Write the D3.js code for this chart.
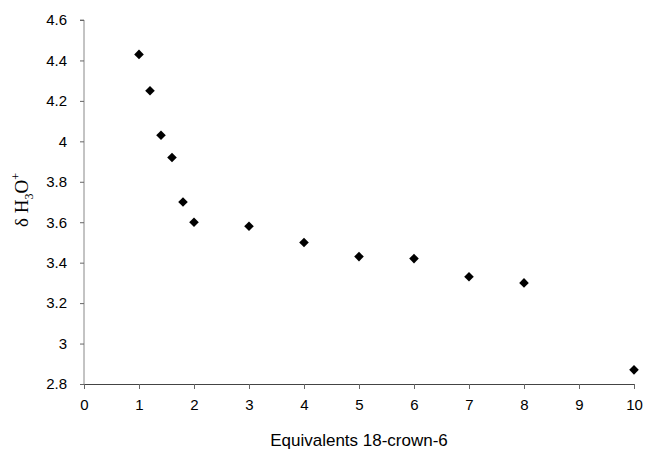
<!DOCTYPE html>
<html>
<head>
<meta charset="utf-8">
<script src="https://cdn.jsdelivr.net/npm/d3@7"></script>
<style>
  body { margin: 0; background: #fff; }
  svg { display: block; }
  .axis text { font-family: Arial, "Liberation Sans", sans-serif; font-size: 15px; fill: #000; }
</style>
</head>
<body>
<svg id="chart" width="646" height="454"></svg>
<script>
// data
var equivalents = [1, 1.2, 1.4, 1.6, 1.8, 2, 3, 4, 5, 6, 7, 8, 10];
var shifts = [4.43, 4.25, 4.03, 3.92, 3.70, 3.60, 3.58, 3.50, 3.43, 3.42, 3.33, 3.30, 2.87];
var xTicks = [0, 1, 2, 3, 4, 5, 6, 7, 8, 9, 10];
var yTicks = [2.8, 3, 3.2, 3.4, 3.6, 3.8, 4, 4.2, 4.4, 4.6];

var svg = d3.select("svg#chart");

var x = d3.scaleLinear().domain([0, 10]).range([84, 634]);
var y = d3.scaleLinear().domain([2.8, 4.6]).range([384, 20]);

var xAxis = d3.axisBottom(x).tickValues(xTicks).tickFormat(d3.format("d"))
  .tickSize(5).tickPadding(10);
var yAxis = d3.axisLeft(y).tickValues(yTicks).tickFormat(function(d) { return String(d); })
  .tickSize(4).tickPadding(13);

var gx = svg.append("g")
  .attr("class", "axis")
  .attr("transform", "translate(0,384)")
  .call(xAxis);
gx.select(".domain").attr("stroke", "#444").attr("d", "M84,0.5H634");
gx.selectAll(".tick line").attr("stroke", "#666");

var gy = svg.append("g")
  .attr("class", "axis")
  .attr("transform", "translate(84,0)")
  .call(yAxis);
gy.select(".domain").attr("stroke", "#888").attr("d", "M-4,20H0V384");
gy.selectAll(".tick line").attr("stroke", "#666");

// points
var diamond = d3.symbol().type(d3.symbolSquare).size(46);
svg.append("g").selectAll("path")
  .data(equivalents.map(function(d, i) { return [d, shifts[i]]; }))
  .enter()
  .append("path")
  .attr("d", diamond)
  .attr("fill", "#000")
  .attr("transform", function(d) {
    return "translate(" + x(d[0]) + "," + y(d[1]) + ") rotate(45)";
  });

// axis titles
svg.append("text")
  .attr("x", 359)
  .attr("y", 446)
  .attr("text-anchor", "middle")
  .style("font-family", "Arial, 'Liberation Sans', sans-serif")
  .style("font-size", "17px")
  .text("Equivalents 18-crown-6");

var yt = svg.append("text")
  .attr("transform", "translate(28,200) rotate(-90)")
  .attr("text-anchor", "middle")
  .style("font-family", "'Times New Roman', 'Liberation Serif', serif")
  .style("font-size", "19px");
yt.append("tspan").text("\u03B4 H");
yt.append("tspan").attr("dy", 5).style("font-size", "12px").text("3");
yt.append("tspan").attr("dy", -5).text("O");
yt.append("tspan").attr("dy", -8).style("font-size", "12px").text("+");
</script>
</body>
</html>
